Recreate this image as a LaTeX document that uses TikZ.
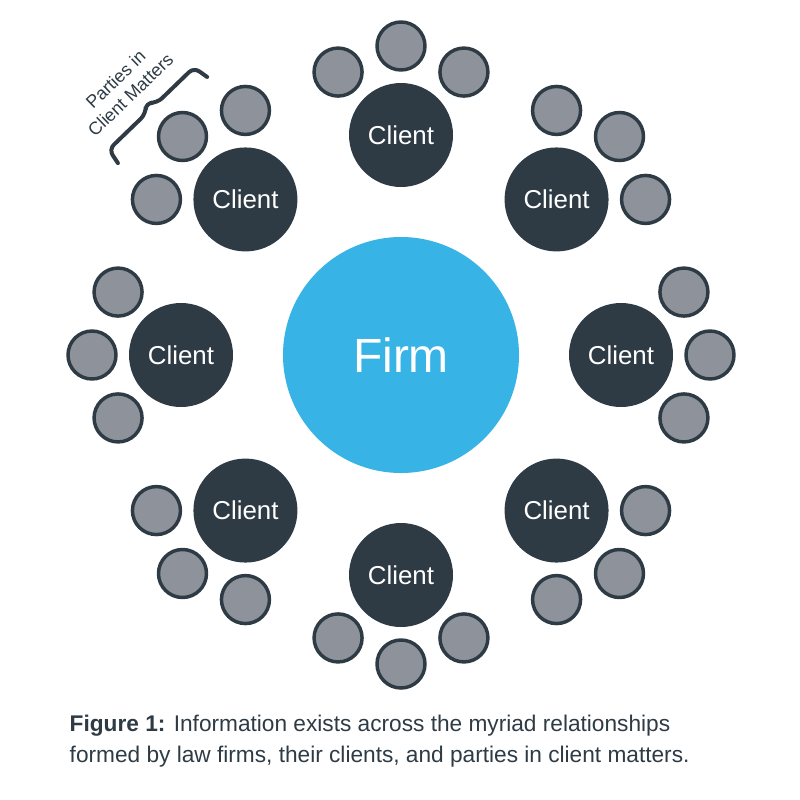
\documentclass[tikz,border=0pt]{standalone}
\usepackage{fontspec}
\setmainfont{Liberation Sans}
\usetikzlibrary{calc}
\definecolor{firmblue}{HTML}{37B3E5}
\definecolor{clientdark}{HTML}{2E3B45}
\definecolor{partygray}{HTML}{8E939B}
\tikzset{
  firm/.style={circle, fill=firmblue, minimum size=177pt, inner sep=0pt,
    text=white, font=\fontsize{36}{36}\selectfont},
  client/.style={circle, fill=clientdark, minimum size=78pt, inner sep=0pt,
    text=white, font=\fontsize{19.4}{20}\selectfont},
  party/.style={circle, draw=clientdark, line width=2.6pt, fill=partygray,
    minimum size=36pt, inner sep=0pt},
  bracket/.style={draw=clientdark, line width=3pt, line cap=round,
    line join=round, rounded corners=5pt}
}
\begin{document}
\begin{tikzpicture}[x=0.75pt, y=-0.75pt]
\useasboundingbox (0,0) rectangle (800,800);
\node[firm] (firm) at (401,355) {Firm};
% clients round the firm, three parties behind each client
\foreach \a [count=\i] in {0,45,...,315} {
  \node[client] (client\i) at ($(firm)+(\a:220)$) {Client};
  \foreach \b [count=\j] in {-45,0,45}
    \node[party] (party\i-\j) at ($(client\i)+(\a+\b:89)$) {};
}
\begin{scope}[shift={(162.5,120)}, rotate=44]
  \draw[bracket] (-62,0) -- (-59,-16) -- (-8,-16) -- (0,-24) -- (8,-16)
    -- (59,-16) -- (62,0);
\end{scope}
\node[rotate=44, align=center, text=clientdark, font=\fontsize{13.4}{16}\selectfont]
  (partylabel) at (123,87) {Parties in\\Client Matters};
\node[anchor=base west, align=left, text=clientdark, font=\fontsize{17}{23.25}\selectfont]
  (caption) at (65,762) {\textbf{Figure 1:} Information exists across the myriad relationships\\
  formed by law firms, their clients, and parties in client matters.};
\end{tikzpicture}
\end{document}
